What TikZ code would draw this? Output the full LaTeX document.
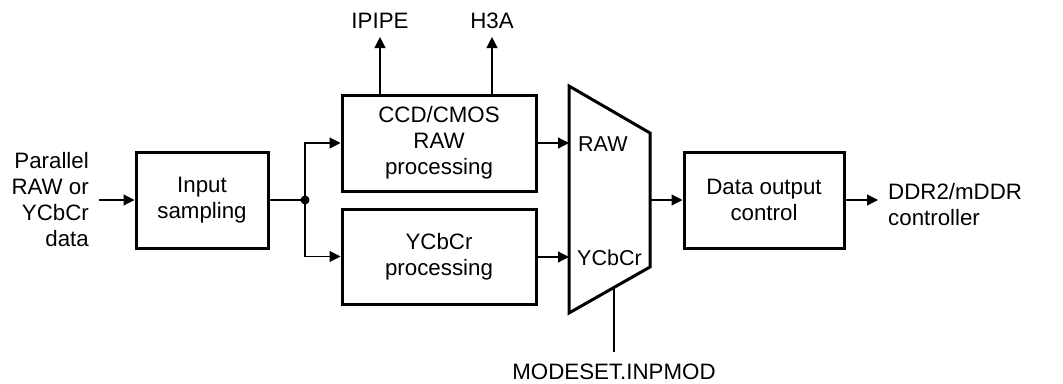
\documentclass[tikz,border=0pt]{standalone}
\usepackage{fontspec}
\setmainfont{Liberation Sans}
\usetikzlibrary{arrows.meta}
\begin{document}
\begin{tikzpicture}[x=1pt,y=-1pt,
  blk/.style={draw, line width=3pt, minimum width=#1, inner sep=0pt, align=center},
  lbl/.style={font=\fontsize{22.3}{26}\selectfont, align=center, inner sep=0pt},
  conn/.style={line width=1.2pt},
  arr/.style={conn, -{Triangle[length=11pt,width=11pt]}},
  every node/.style={font=\fontsize{22.3}{26}\selectfont}]
\useasboundingbox (0,0) rectangle (1063,383);
% blocks
\node[blk=132pt, minimum height=96pt] (inp) at (202,200) {Input\\sampling};
\node[blk=194pt, minimum height=96pt] (ccd) at (439,143) {CCD/CMOS\\RAW\\processing};
\node[blk=194pt, minimum height=95pt] (ycc) at (439,256.5) {YCbCr\\processing};
\node[blk=160pt, minimum height=96pt] (dat) at (764,200) {Data output\\control};
% mux
\coordinate (mtl) at (569,86);
\coordinate (mtr) at (650,133);
\coordinate (mbr) at (650,267);
\coordinate (mbl) at (569,313);
\draw[line width=3pt, line join=miter] (mtl) -- (mtr) -- (mbr) -- (mbl) -- cycle;
\coordinate (mraw) at (569,143);
\coordinate (mycc) at (569,257);
\coordinate (mout) at (650,200);
\coordinate (msel) at (614,287.4);
\node[lbl, anchor=west, font=\fontsize{21.5}{26}\selectfont] (rawl) at (578,144) {RAW};
\node[lbl, anchor=west, font=\fontsize{21.5}{26}\selectfont] (yccl) at (577,258) {YCbCr};
% labels
\node[lbl, align=right, anchor=east, inner xsep=10pt] (src) at (99,200) {Parallel\\RAW or\\YCbCr\\data};
\node[lbl, align=left, anchor=west, inner xsep=10pt] (ddr) at (878,205) {DDR2/mDDR\\controller};
\node[lbl] (ipipe) at (380,21) {IPIPE};
\node[lbl] (h3a) at (492,21) {H3A};
\node[lbl] (mod) at (614,372) {MODESET.INPMOD};
\coordinate (ipipeend) at (380,37);
\coordinate (h3aend) at (492,37);
\coordinate (ipipest) at (380,95);
\coordinate (h3ast) at (492,95);
\coordinate (modend) at (614,352);
\coordinate (ddrend) at (878,200);
% connectors
\draw[arr] (src.east) -- (inp.west);
\coordinate (jn) at (305,200);
\draw[conn] (inp.east) -- (jn);
\fill (jn) circle (4.5pt);
\draw[arr] (jn) |- (ccd.west);
\draw[arr] (jn) |- (ycc.west);
\draw[arr] (ipipest) -- (ipipeend);
\draw[arr] (h3ast) -- (h3aend);
\draw[arr] (ccd.east |- mraw) -- (mraw);
\draw[arr] (ycc.east |- mycc) -- (mycc);
\draw[arr] (mout) -- (dat.west);
\draw[arr] (dat.east) -- (ddrend);
\draw[conn] (msel) -- (modend);
\end{tikzpicture}
\end{document}
